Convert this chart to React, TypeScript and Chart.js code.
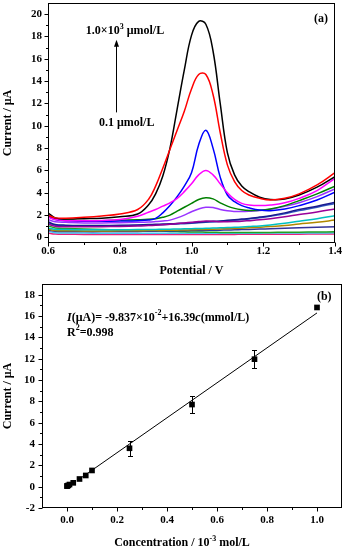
import React, { useEffect, useRef } from 'react';
import { Chart, registerables } from 'chart.js';

Chart.register(...registerables);

const FONT = '"Liberation Serif", "Times New Roman", serif';

// ---------- (a) voltammograms ----------
const potentials = [0.6, 0.62, 0.65, 0.7, 0.75, 0.8, 0.85, 0.88, 0.9, 0.92, 0.94, 0.96, 0.98, 1.0, 1.02, 1.04, 1.06, 1.08, 1.1, 1.12, 1.14, 1.16, 1.19, 1.22, 1.26, 1.3, 1.35, 1.4];

const curveBlack = [2.2, 1.75, 1.65, 1.68, 1.72, 1.85, 2.1, 2.9, 3.9, 5.5, 8.0, 11.5, 15.0, 18.1, 19.35, 19.1, 16.7, 12.0, 7.6, 5.6, 4.6, 4.1, 3.6, 3.4, 3.45, 3.8, 4.5, 5.45];
const curveRed = [2.0, 1.75, 1.72, 1.8, 1.92, 2.1, 2.5, 3.4, 4.6, 6.2, 7.9, 9.6, 11.3, 13.3, 14.6, 14.6, 12.8, 9.4, 6.5, 5.0, 4.2, 3.8, 3.5, 3.35, 3.5, 3.9, 4.7, 5.8];
const curveBlue = [1.9, 1.6, 1.5, 1.45, 1.45, 1.47, 1.5, 1.55, 1.7, 2.2, 2.85, 3.65, 4.6, 5.8, 8.3, 9.6, 8.0, 5.4, 3.8, 3.2, 2.85, 2.65, 2.45, 2.4, 2.55, 2.85, 3.35, 4.05];
const curveMagenta = [1.8, 1.6, 1.5, 1.5, 1.52, 1.6, 1.9, 2.25, 2.5, 2.8, 3.1, 3.5, 4.1, 4.8, 5.6, 6.0, 5.6, 4.8, 4.0, 3.4, 3.05, 2.9, 2.85, 2.9, 3.1, 3.5, 4.2, 5.3];
const curveGreen = [2.0, 1.65, 1.55, 1.5, 1.5, 1.53, 1.58, 1.62, 1.68, 1.8, 2.0, 2.35, 2.7, 3.05, 3.4, 3.56, 3.45, 3.1, 2.8, 2.6, 2.48, 2.42, 2.43, 2.55, 2.85, 3.3, 3.9, 4.6];
const curveViolet = [1.6, 1.4, 1.35, 1.3, 1.3, 1.32, 1.35, 1.38, 1.42, 1.47, 1.55, 1.75, 2.0, 2.3, 2.55, 2.7, 2.68, 2.5, 2.38, 2.33, 2.32, 2.34, 2.4, 2.52, 2.78, 3.1, 3.65, 4.35];
const curvePlum = [1.2, 1.0, 0.95, 0.95, 0.96, 0.98, 1.02, 1.06, 1.09, 1.13, 1.18, 1.24, 1.3, 1.36, 1.42, 1.46, 1.44, 1.4, 1.4, 1.42, 1.45, 1.5, 1.58, 1.68, 1.85, 2.05, 2.28, 2.55];
const curveNavy = [1.4, 1.15, 1.1, 1.07, 1.06, 1.08, 1.12, 1.15, 1.17, 1.2, 1.22, 1.25, 1.28, 1.32, 1.36, 1.4, 1.44, 1.48, 1.53, 1.58, 1.64, 1.7, 1.82, 1.95, 2.2, 2.5, 2.8, 3.15];
const curveRoyal = [1.3, 1.1, 1.05, 1.02, 1.02, 1.04, 1.08, 1.1, 1.12, 1.14, 1.17, 1.2, 1.23, 1.27, 1.31, 1.35, 1.39, 1.43, 1.48, 1.53, 1.59, 1.65, 1.76, 1.9, 2.12, 2.4, 2.7, 3.05];
const curveCyan = [0.85, 0.72, 0.7, 0.68, 0.68, 0.69, 0.7, 0.71, 0.72, 0.73, 0.74, 0.75, 0.77, 0.78, 0.8, 0.82, 0.84, 0.86, 0.88, 0.9, 0.93, 0.97, 1.03, 1.12, 1.27, 1.45, 1.67, 1.95];
const curveOlive = [0.75, 0.62, 0.6, 0.58, 0.58, 0.59, 0.6, 0.61, 0.62, 0.63, 0.64, 0.65, 0.66, 0.68, 0.7, 0.72, 0.74, 0.76, 0.78, 0.8, 0.83, 0.86, 0.91, 0.97, 1.07, 1.2, 1.35, 1.55];
const curveIndigo = [0.65, 0.55, 0.53, 0.52, 0.52, 0.53, 0.54, 0.55, 0.56, 0.57, 0.58, 0.59, 0.6, 0.61, 0.62, 0.63, 0.64, 0.65, 0.66, 0.68, 0.7, 0.72, 0.75, 0.78, 0.82, 0.86, 0.9, 0.95];
const curveLime = [1.05, 0.85, 0.8, 0.75, 0.7, 0.67, 0.63, 0.6, 0.58, 0.56, 0.54, 0.52, 0.5, 0.49, 0.48, 0.47, 0.46, 0.45, 0.45, 0.45, 0.45, 0.45, 0.45, 0.45, 0.46, 0.47, 0.48, 0.5];
const curveSky = [0.55, 0.42, 0.4, 0.39, 0.38, 0.38, 0.38, 0.38, 0.38, 0.38, 0.38, 0.38, 0.38, 0.38, 0.38, 0.38, 0.38, 0.38, 0.38, 0.38, 0.38, 0.38, 0.38, 0.39, 0.39, 0.4, 0.4, 0.41];
const curvePink = [0.4, 0.3, 0.28, 0.27, 0.27, 0.27, 0.27, 0.27, 0.27, 0.27, 0.27, 0.27, 0.27, 0.27, 0.27, 0.27, 0.27, 0.27, 0.27, 0.27, 0.28, 0.28, 0.28, 0.28, 0.29, 0.29, 0.3, 0.3];

// first listed is drawn on top
const curvesA = [curveRed, curveBlack, curveMagenta, curveBlue, curveGreen, curveViolet, curvePlum, curveNavy, curveRoyal, curveCyan, curveOlive, curveIndigo, curveLime, curveSky, curvePink];
const colorsA = ['#FF0000', '#000000', '#FF00FF', '#0000FF', '#008000', '#9933FF', '#990099', '#1A1A8F', '#3158C0', '#00C0C0', '#B08800', '#333399', '#22A022', '#40C8F0', '#E8207A'];

const xTicksA = [0.6, 0.8, 1.0, 1.2, 1.4];
const yTicksA = [0, 2, 4, 6, 8, 10, 12, 14, 16, 18, 20];

// ---------- (b) calibration ----------
const concentrations = [0.0001, 0.001, 0.005, 0.01, 0.025, 0.05, 0.075, 0.1, 0.25, 0.5, 0.75, 1.0];
const peakCurrents = [0.05, 0.08, 0.12, 0.2, 0.36, 0.72, 1.05, 1.52, 3.6, 7.7, 11.95, 16.8];
const currentErrors = [0.05, 0.05, 0.05, 0.05, 0.06, 0.08, 0.1, 0.1, 0.7, 0.8, 0.85, 0.1];
const fitConc = [0.04, 1.0];
const fitCurrent = [0.56, 16.29];

const xTicksB = [0, 0.2, 0.4, 0.6, 0.8, 1.0];
const yTicksB = [-2, 0, 2, 4, 6, 8, 10, 12, 14, 16, 18];

type Seg = { t: string; sup?: boolean; it?: boolean };

function segFont(s: Seg, size: number) {
  const sz = s.sup ? Math.round(size * 0.65) : size;
  return `${s.it ? 'italic ' : ''}bold ${sz}px ${FONT}`;
}

function drawRich(ctx: CanvasRenderingContext2D, segs: Seg[], x: number, y: number, align: string, size: number) {
  let w = 0;
  const widths = segs.map((s) => {
    ctx.font = segFont(s, size);
    const m = ctx.measureText(s.t).width;
    w += m;
    return m;
  });
  let cx = align === 'center' ? x - w / 2 : align === 'right' ? x - w : x;
  ctx.textBaseline = 'middle';
  ctx.textAlign = 'left';
  segs.forEach((s, i) => {
    ctx.font = segFont(s, size);
    ctx.fillText(s.t, cx, s.sup ? y - size * 0.38 : y);
    cx += widths[i];
  });
}

function makeFramePlugin() {
  return {
    id: 'frameTicks',
    afterDraw(chart: any) {
      const { ctx, chartArea: a } = chart;
      const xs = chart.scales.x;
      const ys = chart.scales.y;
      const L = Math.round(a.left) + 0.5;
      const R = Math.round(a.right) - 0.5;
      const T = Math.round(a.top) + 0.5;
      const B = Math.round(a.bottom) - 0.5;
      ctx.save();
      ctx.strokeStyle = '#000';
      ctx.lineWidth = 1;
      ctx.strokeRect(L, T, R - L, B - T);
      ctx.beginPath();
      const xv: number[] = xs.ticks.map((t: any) => t.value);
      const yv: number[] = ys.ticks.map((t: any) => t.value);
      xv.forEach((v) => {
        const p = Math.round(xs.getPixelForValue(v)) + 0.5;
        ctx.moveTo(p, B);
        ctx.lineTo(p, B + 4);
      });
      const sx = xv[1] - xv[0];
      for (let k = -1; k < xv.length; k++) {
        const v = xv[0] + sx * (k + 0.5);
        const p = xs.getPixelForValue(v);
        if (p <= a.left + 0.5 || p >= a.right - 0.5) continue;
        const q = Math.round(p) + 0.5;
        ctx.moveTo(q, B);
        ctx.lineTo(q, B + 2.5);
      }
      yv.forEach((v) => {
        const p = Math.round(ys.getPixelForValue(v)) + 0.5;
        ctx.moveTo(L, p);
        ctx.lineTo(L - 4, p);
      });
      const sy = yv[1] - yv[0];
      for (let k = -1; k < yv.length; k++) {
        const v = yv[0] + sy * (k + 0.5);
        const p = ys.getPixelForValue(v);
        if (p <= a.top + 0.5 || p >= a.bottom - 0.5) continue;
        const q = Math.round(p) + 0.5;
        ctx.moveTo(L, q);
        ctx.lineTo(L - 2.5, q);
      }
      ctx.stroke();
      ctx.restore();
    },
  };
}

type Note = { x: number; y?: number; dy?: number; segs: Seg[]; align?: string; size?: number };
type Arrow = { x: number; y1: number; y2: number };

function makeNotesPlugin(notes: Note[], arrows: Arrow[]) {
  return {
    id: 'notes',
    afterDraw(chart: any) {
      const { ctx, chartArea } = chart;
      const xs = chart.scales.x;
      const ys = chart.scales.y;
      ctx.save();
      ctx.fillStyle = '#000';
      ctx.strokeStyle = '#000';
      notes.forEach((n) => {
        const px = xs.getPixelForValue(n.x);
        const py = n.dy !== undefined ? chartArea.bottom + n.dy : ys.getPixelForValue(n.y as number);
        drawRich(ctx, n.segs, px, py, n.align || 'center', n.size || 12);
      });
      arrows.forEach((ar) => {
        const px = Math.round(xs.getPixelForValue(ar.x)) + 0.5;
        const y1 = ys.getPixelForValue(ar.y1);
        const y2 = ys.getPixelForValue(ar.y2);
        ctx.lineWidth = 1;
        ctx.beginPath();
        ctx.moveTo(px, y1);
        ctx.lineTo(px, y2 + 5);
        ctx.stroke();
        ctx.beginPath();
        ctx.moveTo(px, y2);
        ctx.lineTo(px - 2.5, y2 + 7);
        ctx.lineTo(px + 2.5, y2 + 7);
        ctx.closePath();
        ctx.fill();
      });
      ctx.restore();
    },
  };
}

function makeErrorBarPlugin() {
  return {
    id: 'errorBars',
    afterDatasetsDraw(chart: any) {
      const { ctx } = chart;
      const xs = chart.scales.x;
      const ys = chart.scales.y;
      ctx.save();
      ctx.strokeStyle = '#000';
      ctx.lineWidth = 1;
      ctx.beginPath();
      concentrations.forEach((c, i) => {
        const px = Math.round(xs.getPixelForValue(c)) + 0.5;
        const top = Math.round(ys.getPixelForValue(peakCurrents[i] + currentErrors[i])) + 0.5;
        const bot = Math.round(ys.getPixelForValue(peakCurrents[i] - currentErrors[i])) + 0.5;
        if (bot - top < 6) return;
        ctx.moveTo(px, top);
        ctx.lineTo(px, bot);
        ctx.moveTo(px - 2.5, top);
        ctx.lineTo(px + 2.5, top);
        ctx.moveTo(px - 2.5, bot);
        ctx.lineTo(px + 2.5, bot);
      });
      ctx.stroke();
      ctx.restore();
    },
  };
}

const tickFont = { size: 11, weight: 'bold' as const, family: FONT };
const titleFont = { size: 12, weight: 'bold' as const, family: FONT };

export default function App() {
  const refA = useRef<HTMLCanvasElement>(null);
  const refB = useRef<HTMLCanvasElement>(null);

  useEffect(() => {
    Chart.defaults.font.family = FONT;
    Chart.defaults.color = '#000';

    const chartA = new Chart(refA.current as HTMLCanvasElement, {
      type: 'line',
      data: {
        datasets: curvesA.map((c, i) => ({
          data: potentials.map((v, j) => ({ x: v, y: c[j] })),
          borderColor: colorsA[i],
          borderWidth: 1.5,
          pointRadius: 0,
          tension: 0.4,
          fill: false,
        })),
      },
      options: {
        animation: false,
        responsive: false,
        devicePixelRatio: 1,
        layout: { padding: { left: 0, top: 3, right: 11, bottom: 0 } },
        plugins: { legend: { display: false }, tooltip: { enabled: false } },
        scales: {
          x: {
            type: 'linear',
            min: 0.6,
            max: 1.4,
            afterBuildTicks: (s: any) => {
              s.ticks = xTicksA.map((v) => ({ value: v }));
            },
            afterFit: (s: any) => {
              s.height = 37;
              s.paddingLeft = 0;
              s.paddingRight = 0;
            },
            grid: { display: false, drawTicks: false },
            border: { display: false },
            ticks: { padding: 2, font: tickFont, color: '#000', maxRotation: 0, autoSkip: false, callback: (v: any) => Number(v).toFixed(1) },
            title: { display: true, text: 'Potential / V', font: titleFont, color: '#000', padding: { top: 0, bottom: 2 } },
          },
          y: {
            type: 'linear',
            min: -0.5,
            max: 21,
            afterBuildTicks: (s: any) => {
              s.ticks = yTicksA.map((v) => ({ value: v }));
            },
            afterFit: (s: any) => {
              s.width = 48;
              s.paddingTop = 0;
              s.paddingBottom = 0;
            },
            grid: { display: false, drawTicks: false },
            border: { display: false },
            ticks: { padding: 6, font: tickFont, color: '#000', autoSkip: false, callback: (v: any) => String(v) },
            title: { display: true, text: 'Current / μA', font: titleFont, color: '#000', padding: { top: 1, bottom: 0 } },
          },
        },
      },
      plugins: [
        makeFramePlugin(),
        makeNotesPlugin(
          [
            { x: 1.361, y: 19.55, segs: [{ t: '(a)' }] },
            { x: 0.8146, y: 18.48, segs: [{ t: '1.0×10' }, { t: '3', sup: true }, { t: ' μmol/L' }] },
            { x: 0.8194, y: 10.29, segs: [{ t: '0.1 μmol/L' }] },
          ],
          [{ x: 0.7895, y1: 11.2, y2: 17.7 }]
        ),
      ] as any,
    } as any);

    const chartB = new Chart(refB.current as HTMLCanvasElement, {
      type: 'scatter',
      data: {
        datasets: [
          {
            data: concentrations.map((c, i) => ({ x: c, y: peakCurrents[i] })),
            pointStyle: 'rect',
            pointRadius: 4,
            backgroundColor: '#000',
            borderColor: '#000',
            borderWidth: 0,
          },
          {
            type: 'line',
            data: fitConc.map((c, i) => ({ x: c, y: fitCurrent[i] })),
            borderColor: '#000',
            borderWidth: 1,
            pointRadius: 0,
            tension: 0,
            fill: false,
          },
        ],
      },
      options: {
        animation: false,
        responsive: false,
        devicePixelRatio: 1,
        layout: { padding: { left: 0, top: 4, right: 3, bottom: 0 } },
        plugins: { legend: { display: false }, tooltip: { enabled: false } },
        scales: {
          x: {
            type: 'linear',
            min: -0.1,
            max: 1.1,
            afterBuildTicks: (s: any) => {
              s.ticks = xTicksB.map((v) => ({ value: v }));
            },
            afterFit: (s: any) => {
              s.height = 42;
              s.paddingLeft = 0;
              s.paddingRight = 0;
            },
            grid: { display: false, drawTicks: false },
            border: { display: false },
            ticks: { padding: 6, font: tickFont, color: '#000', maxRotation: 0, autoSkip: false, callback: (v: any) => Number(v).toFixed(1) },
            title: { display: false },
          },
          y: {
            type: 'linear',
            min: -2,
            max: 19,
            afterBuildTicks: (s: any) => {
              s.ticks = yTicksB.map((v) => ({ value: v }));
            },
            afterFit: (s: any) => {
              s.width = 42;
              s.paddingTop = 0;
              s.paddingBottom = 0;
            },
            grid: { display: false, drawTicks: false },
            border: { display: false },
            ticks: { padding: 7, font: tickFont, color: '#000', autoSkip: false, callback: (v: any) => String(v) },
            title: { display: true, text: 'Current / μA', font: titleFont, color: '#000', padding: { top: 1, bottom: 0 } },
          },
        },
      },
      plugins: [
        makeErrorBarPlugin(),
        makeFramePlugin(),
        makeNotesPlugin(
          [
            { x: 1.029, y: 17.78, segs: [{ t: '(b)' }] },
            {
              x: 0.0,
              y: 15.84,
              align: 'left',
              segs: [{ t: 'I', it: true }, { t: '(μA)= -9.837×10' }, { t: '-2', sup: true }, { t: '+16.39' }, { t: 'c', it: true }, { t: '(mmol/L)' }],
            },
            { x: 0.0, y: 14.43, align: 'left', segs: [{ t: 'R' }, { t: '2', sup: true }, { t: '=0.998' }] },
            { x: 0.46, dy: 35, segs: [{ t: 'Concentration / 10' }, { t: '-3', sup: true }, { t: ' mol/L' }] },
          ],
          []
        ),
      ] as any,
    } as any);

    return () => {
      chartA.destroy();
      chartB.destroy();
    };
  }, []);

  return (
    <div style={{ position: 'absolute', left: 0, top: 0, width: 346, height: 550, background: '#fff' }}>
      <canvas ref={refA} width={346} height={280} style={{ position: 'absolute', left: 0, top: 0, width: 346, height: 280 }} />
      <canvas ref={refB} width={346} height={270} style={{ position: 'absolute', left: 0, top: 280, width: 346, height: 270 }} />
    </div>
  );
}
